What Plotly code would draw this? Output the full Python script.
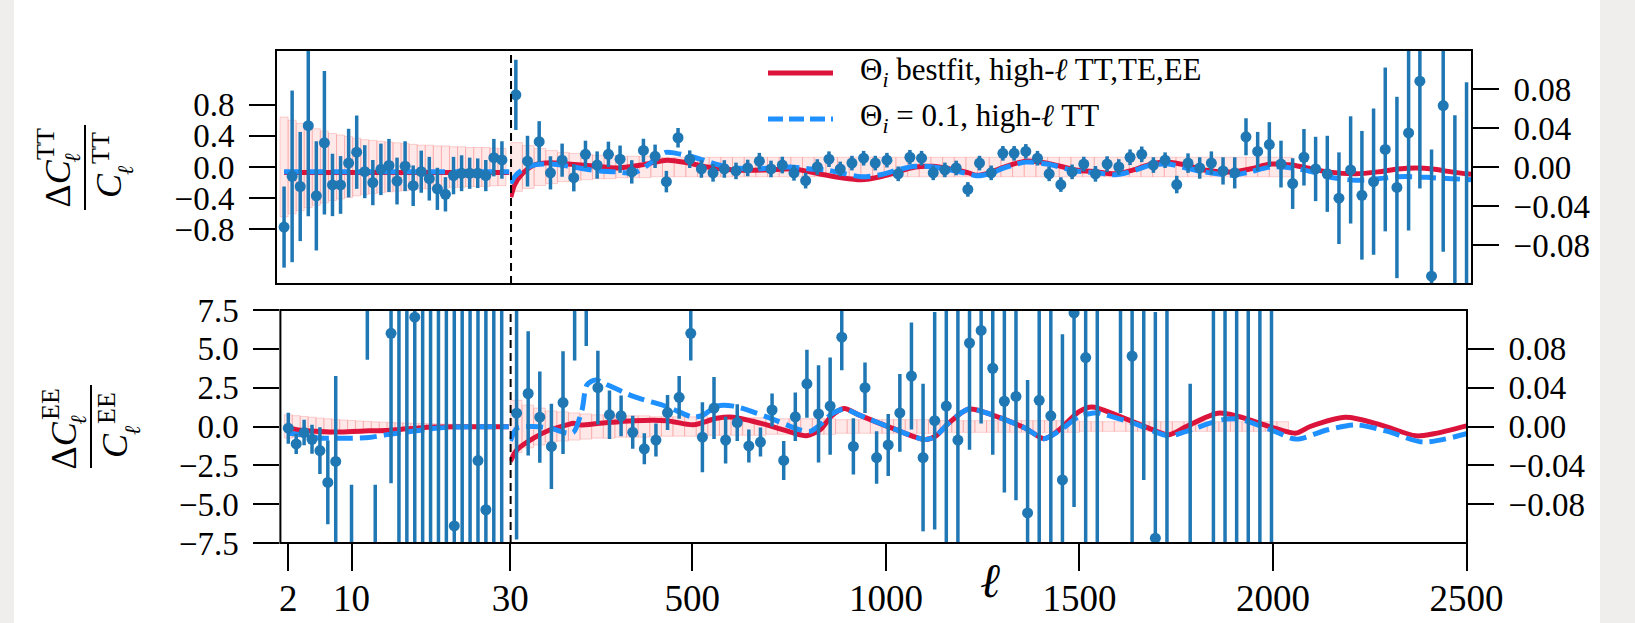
import plotly.graph_objects as go

W, H = 1635, 623
FONT = "Liberation Serif"
C0 = "#1f77b4"
RED = "#dc143c"
BLUE = "#1e90ff"

# ---------------- data ----------------
ell_low = [2, 3, 4, 5, 6, 7, 8, 9, 10, 11, 12, 13, 14, 15, 16, 17, 18, 19, 20, 21, 22, 23, 24, 25, 26, 27, 28, 29]

tt_low = [-0.77, -0.12, -0.25, 0.53, -0.37, 0.31, -0.23, -0.23, 0.05, 0.19, -0.06, -0.20, -0.03, 0.02,
          -0.18, 0.01, -0.24, -0.06, -0.15, -0.28, -0.35, -0.11, -0.08, -0.08, -0.08, -0.11, 0.12, 0.09]
tt_low_err = [0.52, 1.10, 0.70, 1.16, 0.70, 0.92, 0.40, 0.37, 0.44, 0.47, 0.34, 0.29, 0.33, 0.34,
              0.30, 0.32, 0.26, 0.27, 0.28, 0.27, 0.22, 0.24, 0.23, 0.20, 0.19, 0.20, 0.24, 0.24]

ee_low = [-0.11, -1.12, -0.39, -0.82, -1.55, -3.6, -2.25, -25.0, -12.0, 25.0, 14.0, -12.0, -25.0, 6.0,
          9.0, -10.0, 7.04, 10.0, -9.0, 12.0, -11.0, -6.4, 9.0, -10.0, -2.19, -5.36, 8.0, -8.0]
ee_low_err = [1.0, 0.65, 0.82, 0.93, 1.5, 2.7, 5.5, 10.0, 8.25, 10.0, 9.7, 8.25, 10.0, 9.65,
              20.0, 20.0, 15.0, 20.0, 20.0, 22.0, 22.0, 20.0, 20.0, 20.0, 15.0, 15.0, 18.0, 18.0]

ell_tt_hi = [43, 73, 103, 132, 162, 192, 222, 252, 281, 311,
             341, 371, 401, 430, 460, 490, 520, 550, 579, 609,
             639, 669, 699, 728, 758, 788, 818, 848, 877, 907,
             937, 967, 997, 1026, 1056, 1086, 1116, 1146, 1175, 1205,
             1235, 1265, 1295, 1324, 1354, 1384, 1414, 1444, 1473, 1503,
             1533, 1563, 1593, 1622, 1652, 1682, 1712, 1742, 1771, 1801,
             1831, 1861, 1891, 1920, 1950, 1980, 2010, 2040, 2069, 2099,
             2129, 2159, 2189, 2218, 2248, 2278, 2308, 2338, 2367, 2397,
             2427, 2457, 2487]
tt_hi = [0.074, 0.006, 0.026, -0.006, 0.007, -0.011, 0.013, 0.002, 0.013, 0.008,
         -0.005, 0.017, 0.011, -0.015, 0.030, 0.008, -0.002, -0.006, -0.002, -0.004,
         -0.001, 0.006, -0.002, 0.002, -0.006, -0.014, 0.000, 0.008, -0.002, 0.004,
         0.009, 0.004, 0.007, -0.007, 0.010, 0.009, -0.006, -0.003, -0.001, -0.023,
         0.004, -0.006, 0.014, 0.014, 0.016, 0.009, -0.007, -0.018, -0.005, 0.003,
         -0.007, 0.003, 0.000, 0.010, 0.013, 0.002, 0.007, -0.018, 0.004, -0.001,
         0.004, -0.004, -0.006, 0.031, 0.016, 0.023, 0.003, -0.017, 0.010, -0.002,
         -0.007, -0.032, -0.003, -0.029, -0.015, 0.018, -0.021, 0.035, 0.088, -0.112,
         0.063, -0.125, -0.130]
tt_hi_err = [0.036, 0.026, 0.021, 0.017, 0.017, 0.014, 0.014, 0.014, 0.013, 0.014,
             0.012, 0.012, 0.012, 0.011, 0.010, 0.009, 0.009, 0.009, 0.009, 0.0085,
             0.0085, 0.0085, 0.0085, 0.0085, 0.008, 0.008, 0.008, 0.008, 0.0075, 0.0075,
             0.0075, 0.0075, 0.0075, 0.0075, 0.0075, 0.0075, 0.0075, 0.0075, 0.0075, 0.0075,
             0.0075, 0.0075, 0.0075, 0.0075, 0.0075, 0.0075, 0.0075, 0.0075, 0.0075, 0.0075,
             0.008, 0.008, 0.008, 0.008, 0.008, 0.008, 0.008, 0.009, 0.010, 0.011,
             0.012, 0.014, 0.016, 0.019, 0.020, 0.023, 0.024, 0.026, 0.029, 0.033,
             0.039, 0.047, 0.055, 0.066, 0.075, 0.084, 0.093, 0.100, 0.110, 0.130,
             0.150, 0.178, 0.217]

ell_ee_hi = [46, 76, 106, 136, 166, 196, 226, 256, 286, 316,
             346, 376, 406, 436, 466, 496, 526, 556, 586, 616,
             646, 676, 706, 736, 766, 796, 826, 856, 886, 916,
             946, 976, 1006, 1036, 1066, 1096, 1126, 1156, 1186, 1216,
             1246, 1276, 1306, 1336, 1366, 1396, 1426, 1456, 1486, 1516,
             1546, 1576, 1606, 1636, 1666, 1696, 1726, 1756, 1786, 1816,
             1846, 1876, 1906, 1936, 1966, 1996]
ee_hi = [0.0137, 0.034, 0.0096, -0.0205, 0.0246, 0.16, 0.17, 0.040, 0.012, 0.011,
         -0.006, -0.023, -0.014, 0.0144, 0.030, 0.096, -0.011, 0.019, -0.014, 0.004,
         -0.020, -0.016, 0.017, -0.035, 0.010, 0.044, 0.013, 0.021, 0.092, -0.0205,
         0.040, -0.032, -0.019, 0.014, 0.052, -0.032, 0.006, 0.021, -0.014, 0.086,
         0.099, 0.060, 0.026, 0.031, -0.089, 0.027, 0.011, -0.055, 0.117, 0.071,
         0.16, 0.25, 0.15, 0.0725, 0.14, -0.115, -0.2, -0.3, -0.15, 0.3,
         0.2, -0.2, 0.2, -0.2, 0.2, -0.2]
ee_hi_err = [0.13, 0.064, 0.047, 0.044, 0.053, 0.092, 0.087, 0.038, 0.025, 0.021,
             0.017, 0.016, 0.017, 0.018, 0.022, 0.028, 0.036, 0.032, 0.024, 0.019,
             0.017, 0.015, 0.017, 0.020, 0.025, 0.035, 0.050, 0.050, 0.034, 0.029,
             0.026, 0.027, 0.032, 0.040, 0.055, 0.076, 0.112, 0.15, 0.15, 0.110,
             0.096, 0.089, 0.094, 0.107, 0.137, 0.15, 0.15, 0.15, 0.2, 0.2,
             0.3, 0.1, 0.136, 0.2, 0.195, 0.233, 0.4, 0.1, 0.194, 0.1,
             0.4, 0.4, 0.4, 0.4, 0.4, 0.4]

# error bands (half widths)
band_tt_low = [0.64, 0.60, 0.56, 0.52, 0.49, 0.46, 0.43, 0.41, 0.39, 0.37, 0.35, 0.34, 0.33, 0.32,
               0.31, 0.30, 0.29, 0.28, 0.28, 0.27, 0.27, 0.26, 0.26, 0.25, 0.25, 0.25, 0.24, 0.24]
band_ee_low = [0.75, 0.70, 0.65, 0.60, 0.55, 0.50, 0.45, 0.42, 0.39, 0.36, 0.33, 0.30, 0.28, 0.26,
               0.24, 0.22, 0.20, 0.19, 0.18, 0.17, 0.16, 0.15, 0.14, 0.13, 0.12, 0.12, 0.11, 0.11]
band_ell_hi = [45, 75, 105, 135, 165, 195, 225, 255, 285, 315, 345, 375, 405, 435, 465, 495, 525,
               555, 585, 615, 645, 675, 705, 735, 765, 795, 825, 855, 885, 915, 945, 975, 1005,
               1035, 1065, 1095, 1125, 1155, 1185, 1215, 1245, 1275, 1305, 1335, 1365, 1395,
               1425, 1455, 1485, 1515, 1545, 1575, 1605, 1635, 1665, 1695, 1725, 1755, 1785,
               1815, 1845, 1875, 1905, 1935, 1965, 1995, 2025]
band_tt_hi = [0.025, 0.022, 0.019, 0.017, 0.015, 0.014, 0.013, 0.012, 0.012, 0.011,
              0.011, 0.011, 0.010, 0.010, 0.010, 0.010, 0.010, 0.010, 0.010, 0.010,
              0.010, 0.010, 0.010, 0.010, 0.010, 0.010, 0.010, 0.010, 0.010, 0.010,
              0.010, 0.010, 0.010, 0.010, 0.010, 0.010, 0.010, 0.010, 0.010, 0.010,
              0.010, 0.010, 0.010, 0.010, 0.010, 0.010, 0.010, 0.010, 0.010, 0.010,
              0.010, 0.010, 0.010, 0.010, 0.010, 0.010, 0.010, 0.010, 0.010, 0.010,
              0.010, 0.010, 0.010, 0.010, 0.010, 0.010, 0.010]
band_ee_hi = [0.027, 0.022, 0.019, 0.016, 0.015, 0.014, 0.013, 0.012, 0.012, 0.011,
              0.011, 0.011, 0.010, 0.010, 0.010, 0.010, 0.010, 0.009, 0.009, 0.009,
              0.009, 0.009, 0.008, 0.008, 0.008, 0.008, 0.008, 0.008, 0.007, 0.007,
              0.007, 0.007, 0.007, 0.007, 0.007, 0.007, 0.007, 0.006, 0.006, 0.006,
              0.006, 0.006, 0.006, 0.006, 0.006, 0.006, 0.006, 0.006, 0.006, 0.005,
              0.005, 0.005, 0.005, 0.005, 0.005, 0.005, 0.005, 0.005, 0.005, 0.005,
              0.005, 0.005, 0.005, 0.005, 0.005, 0.005, 0.005]

# model curves
m_tt_low_ell = [2, 5, 10, 15, 20, 25, 29.9]
m_tt_low_red = [-0.07, -0.07, -0.07, -0.07, -0.07, -0.07, -0.07]
m_tt_low_blue = [-0.06, -0.06, -0.06, -0.06, -0.06, -0.06, -0.06]

m_tt_red_ell = [30, 40, 56, 90, 133, 176, 244, 304, 364, 432, 483, 535, 604, 689, 758, 822, 880, 931,
                980, 1024, 1070, 1116, 1160, 1207, 1226, 1260, 1298, 1354, 1409, 1482, 1537, 1584,
                1630, 1675, 1721, 1766, 1812, 1884, 1930, 1984, 2038, 2090, 2130, 2202, 2260, 2311,
                2357, 2400, 2448, 2500]
m_tt_red = [-0.031, -0.018, -0.0085, 0.002, 0.0044, 0.003, 0.001, -0.001, 0.002, 0.007, 0.0044, 0.0,
            -0.003, -0.003, -0.002, -0.007, -0.011, -0.013, -0.010, -0.005, 0.0, 0.0007, -0.002,
            -0.006, -0.0085, -0.006, 0.0, 0.006, 0.004, -0.003, -0.005, -0.007, -0.003, 0.003,
            0.005, 0.002, -0.003, -0.005, -0.002, 0.003, 0.002, -0.002, -0.005, -0.007, -0.005,
            -0.002, -0.001, -0.002, -0.005, -0.0075]
m_tt_blue_ell = [30, 40, 56, 90, 133, 176, 220, 260, 300, 346, 382, 428, 455, 501, 565, 610, 657, 700,
                 749, 800, 840, 890, 932, 980, 1024, 1070, 1116, 1160, 1207, 1226, 1260, 1298, 1354,
                 1409, 1482, 1537, 1584, 1630, 1675, 1721, 1766, 1812, 1884, 1930, 1984, 2038, 2090,
                 2130, 2202, 2260, 2311, 2357, 2400, 2448, 2500]
m_tt_blue = [-0.017, -0.010, -0.004, 0.002, 0.003, 0.001, -0.002, -0.004, -0.005, -0.006, 0.002,
             0.015, 0.014, 0.010, 0.002, -0.001, -0.002, -0.001, 0.0, -0.002, -0.003, -0.007, -0.010,
             -0.008, -0.003, 0.0007, 0.0, -0.003, -0.007, -0.009, -0.007, -0.001, 0.005, 0.003,
             -0.004, -0.006, -0.008, -0.004, 0.002, 0.003, -0.001, -0.005, -0.0085, -0.005, 0.0,
             -0.001, -0.005, -0.010, -0.0136, -0.012, -0.010, -0.010, -0.011, -0.012, -0.013]

m_ee_low_ell = [2, 3.8, 5.9, 8, 10.1, 12.2, 14.3, 16.4, 18.5, 20.6, 23, 26, 29.9]
m_ee_low_red = [-0.11, -0.26, -0.32, -0.36, -0.32, -0.28, -0.26, -0.17, -0.09, -0.04, -0.02, -0.02, -0.02]
m_ee_low_blue = [-0.43, -0.54, -0.75, -0.75, -0.75, -0.71, -0.54, -0.39, -0.26, -0.11, -0.04, -0.02, -0.02]

m_ee_red_ell = [30, 47, 90, 133, 176, 193, 210, 262, 348, 434, 503, 563, 606, 692, 778, 795, 830, 860,
                892, 930, 1016, 1102, 1128, 1162, 1214, 1274, 1360, 1408, 1446, 1498, 1532, 1594,
                1685, 1731, 1776, 1858, 1913, 2004, 2059, 2096, 2187, 2278, 2369, 2415, 2500]
m_ee_red = [-0.036, -0.024, -0.012, -0.0034, 0.0017, 0.0034, 0.0017, 0.0034, 0.006, 0.006, 0.0017,
            0.0085, 0.0096, 0.0017, -0.0085, -0.0096, -0.0034, 0.011, 0.0185, 0.012, -0.0017,
            -0.0135, -0.010, 0.0034, 0.018, 0.012, -0.0017, -0.0125, -0.004, 0.015, 0.020, 0.012,
            -0.0027, -0.0085, 0.0, 0.0137, 0.010, -0.0017, -0.0068, 0.0, 0.0096, 0.0017, -0.0096,
            -0.0075, 0.0007]
m_ee_blue_ell = [30, 47, 90, 133, 176, 193, 215, 228, 250, 280, 348, 434, 503, 529, 563, 606, 692, 778,
                 804, 830, 860, 892, 930, 1016, 1102, 1128, 1162, 1214, 1274, 1360, 1408, 1446, 1498,
                 1532, 1548, 1639, 1731, 1776, 1867, 1913, 2004, 2059, 2141, 2214, 2296, 2387, 2500]
m_ee_blue = [-0.015, -0.0017, 0.0, -0.0017, -0.0068, -0.006, 0.017, 0.043, 0.048, 0.043, 0.031,
             0.0205, 0.0096, 0.012, 0.021, 0.021, 0.010, -0.0034, -0.005, 0.0017, 0.013, 0.018,
             0.012, -0.0017, -0.0135, -0.010, 0.0034, 0.018, 0.012, -0.0017, -0.0125, -0.005,
             0.010, 0.0137, 0.014, 0.0034, -0.0096, -0.005, 0.0068, 0.0075, -0.005, -0.013,
             -0.0034, 0.0017, -0.005, -0.016, -0.0075]

x_ticks_low = [2, 10]
x_ticks_hi = [30, 500, 1000, 1500, 2000, 2500]
y_ticks_tt = [-0.8, -0.4, 0.0, 0.4, 0.8]
y_ticks_ee = [-7.5, -5.0, -2.5, 0.0, 2.5, 5.0, 7.5]
y_ticks_right = [-0.08, -0.04, 0.0, 0.04, 0.08]


def fmt(v, nd):
    s = f"{abs(v):.{nd}f}"
    return ("\u2212" + s) if v < 0 else s


def px(x):
    return x / W


def py(y):
    return 1 - y / H


fig = go.Figure()


def add_band(ell, half, width, xa, ya):
    fig.add_trace(go.Bar(
        x=ell, y=[2 * h for h in half], base=[-h for h in half], width=width,
        marker=dict(color="rgba(255,165,165,0.26)",
                    line=dict(color="rgba(245,120,120,0.32)", width=1)),
        xaxis=xa, yaxis=ya, showlegend=False, hoverinfo="skip"))


def add_line(ell, vals, color, dash, xa, ya, name):
    fig.add_trace(go.Scatter(
        x=ell, y=vals, mode="lines", name=name,
        line=dict(color=color, width=5, dash=dash, shape="spline", smoothing=0.8),
        xaxis=xa, yaxis=ya, showlegend=False))


def add_data(ell, vals, err, xa, ya):
    fig.add_trace(go.Scatter(
        x=ell, y=vals, mode="markers", name="data",
        marker=dict(size=11, color=C0),
        error_y=dict(type="data", array=err, color=C0, thickness=3.5, width=0),
        xaxis=xa, yaxis=ya, showlegend=False))


DASH = "17px,7px"
add_band(ell_low, band_tt_low, 1, "x", "y")
add_line(m_tt_low_ell, m_tt_low_red, RED, "solid", "x", "y", "Θi bestfit")
add_line(m_tt_low_ell, m_tt_low_blue, BLUE, DASH, "x", "y", "Θi = 0.1")
add_data(ell_low, tt_low, tt_low_err, "x", "y")

add_band(band_ell_hi, band_tt_hi, 30, "x2", "y2")
add_line(m_tt_red_ell, m_tt_red, RED, "solid", "x2", "y2", "Θi bestfit")
add_line(m_tt_blue_ell, m_tt_blue, BLUE, DASH, "x2", "y2", "Θi = 0.1")
add_data(ell_tt_hi, tt_hi, tt_hi_err, "x2", "y2")

add_band(ell_low, band_ee_low, 1, "x3", "y3")
add_line(m_ee_low_ell, m_ee_low_red, RED, "solid", "x3", "y3", "Θi bestfit")
add_line(m_ee_low_ell, m_ee_low_blue, BLUE, DASH, "x3", "y3", "Θi = 0.1")
add_data(ell_low, ee_low, ee_low_err, "x3", "y3")

add_band(band_ell_hi, band_ee_hi, 30, "x4", "y4")
add_line(m_ee_red_ell, m_ee_red, RED, "solid", "x4", "y4", "Θi bestfit")
add_line(m_ee_blue_ell, m_ee_blue, BLUE, DASH, "x4", "y4", "Θi = 0.1")
add_data(ell_ee_hi, ee_hi, ee_hi_err, "x4", "y4")

TOP = (50, 284)
BOT = (310, 543)
TICKF = dict(family=FONT, size=33, color="black")
XTICKF = dict(family=FONT, size=37, color="black")

common_y = dict(showgrid=False, zeroline=False, ticks="outside", ticklen=26, tickwidth=2,
                tickcolor="black", tickfont=TICKF, ticklabelstandoff=8, showline=False,
                automargin=False)
common_x_hidden = dict(showgrid=False, zeroline=False, showticklabels=False, ticks="",
                       showline=False, automargin=False)
common_x = dict(showgrid=False, zeroline=False, ticks="outside", ticklen=27, tickwidth=2,
                tickcolor="black", tickfont=XTICKF, ticklabelstandoff=-4, showline=False,
                automargin=False)

fig.update_layout(
    width=W, height=H, autosize=False,
    margin=dict(l=0, r=0, t=0, b=0, pad=0, autoexpand=False),
    paper_bgcolor="white", plot_bgcolor="white", barmode="overlay",
    font=dict(family=FONT, color="black"),
    xaxis=dict(domain=[px(276), px(510)], range=[1, 30], anchor="y", **common_x_hidden),
    yaxis=dict(domain=[py(TOP[1]), py(TOP[0])], range=[-1.5, 1.5], anchor="x",
               tickvals=y_ticks_tt, ticktext=[fmt(v, 1) for v in y_ticks_tt], **common_y),
    xaxis2=dict(domain=[px(510), px(1472)], range=[28, 2501], anchor="y2", **common_x_hidden),
    yaxis2=dict(domain=[py(TOP[1]), py(TOP[0])], range=[-0.12, 0.12], anchor="x2", side="right",
                tickvals=y_ticks_right, ticktext=[fmt(v, 2) for v in y_ticks_right], **common_y),
    xaxis3=dict(domain=[px(280.4), px(509.6)], range=[1, 30], anchor="y3",
                tickvals=x_ticks_low, ticktext=[str(v) for v in x_ticks_low], **common_x),
    yaxis3=dict(domain=[py(BOT[1]), py(BOT[0])], range=[-7.5, 7.5], anchor="x3",
                tickvals=y_ticks_ee, ticktext=[fmt(v, 1) for v in y_ticks_ee], **common_y),
    xaxis4=dict(domain=[px(509.6), px(1467)], range=[28, 2501], anchor="y4",
                tickvals=x_ticks_hi, ticktext=[str(v) for v in x_ticks_hi], **common_x),
    yaxis4=dict(domain=[py(BOT[1]), py(BOT[0])], range=[-0.12, 0.12], anchor="x4", side="right",
                tickvals=y_ticks_right, ticktext=[fmt(v, 2) for v in y_ticks_right], **common_y),
)

shapes = []
shapes.append(dict(type="rect", xref="paper", yref="paper", x0=0, x1=px(14), y0=0, y1=1,
                   fillcolor="#efeeec", line=dict(width=0), layer="below"))
shapes.append(dict(type="rect", xref="paper", yref="paper", x0=px(1600), x1=1, y0=0, y1=1,
                   fillcolor="#efeeec", line=dict(width=0), layer="below"))
shapes.append(dict(type="rect", xref="paper", yref="paper", x0=px(276), x1=px(1472),
                   y0=py(TOP[1]), y1=py(TOP[0]), line=dict(color="black", width=2)))
shapes.append(dict(type="rect", xref="paper", yref="paper", x0=px(280.4), x1=px(1467),
                   y0=py(BOT[1]), y1=py(BOT[0]), line=dict(color="black", width=2)))
shapes.append(dict(type="line", xref="x2", yref="y2 domain", x0=30, x1=30, y0=0, y1=0.98,
                   line=dict(color="black", width=2.5, dash="8px,5px")))
shapes.append(dict(type="line", xref="x4", yref="y4 domain", x0=30, x1=30, y0=0, y1=1,
                   line=dict(color="black", width=2.5, dash="8px,5px")))
shapes.append(dict(type="line", xref="paper", yref="paper", x0=px(768), x1=px(833), y0=py(73), y1=py(73),
                   line=dict(color=RED, width=5)))
shapes.append(dict(type="line", xref="paper", yref="paper", x0=px(768), x1=px(833), y0=py(119), y1=py(119),
                   line=dict(color=BLUE, width=5, dash="15px,6px")))
shapes.append(dict(type="line", xref="paper", yref="paper", x0=px(85), x1=px(85), y0=py(210), y1=py(125),
                   line=dict(color="black", width=2)))
shapes.append(dict(type="line", xref="paper", yref="paper", x0=px(91), x1=px(91), y0=py(468), y1=py(385),
                   line=dict(color="black", width=2)))
fig.update_layout(shapes=shapes)


def ann(x, y, text, size, angle=0, xanchor="center", yanchor="middle"):
    fig.add_annotation(x=px(x), y=py(y), xref="paper", yref="paper", text=text, showarrow=False,
                       textangle=angle, xanchor=xanchor, yanchor=yanchor,
                       font=dict(family=FONT, size=size, color="black"))


ann(858, 72, "Θ<sub><i>i</i></sub> bestfit, high-<i>ℓ</i> TT,TE,EE", 31, xanchor="left")
ann(858, 118, "Θ<sub><i>i</i></sub> = 0.1, high-<i>ℓ</i> TT", 31, xanchor="left")

ann(57.5, 184, "Δ<i>C</i>", 36, -90)
ann(45, 144, "TT", 26, -90)
ann(71.5, 158, "<i>ℓ</i>", 22, -90)
ann(109, 186, "<i>C</i>", 36, -90)
ann(100, 148, "TT", 26, -90)
ann(126, 170, "<i>ℓ</i>", 22, -90)

ann(63.5, 446, "Δ<i>C</i>", 36, -90)
ann(51, 404, "EE", 26, -90)
ann(77.5, 420, "<i>ℓ</i>", 22, -90)
ann(115, 446, "<i>C</i>", 36, -90)
ann(106, 408, "EE", 26, -90)
ann(132, 430, "<i>ℓ</i>", 22, -90)

ann(990, 580, "<i>ℓ</i>", 48)

fig.write_html("out.html",
               post_script="document.body.style.margin='0';document.body.style.padding='0';"
                           "document.documentElement.style.overflow='hidden';")
